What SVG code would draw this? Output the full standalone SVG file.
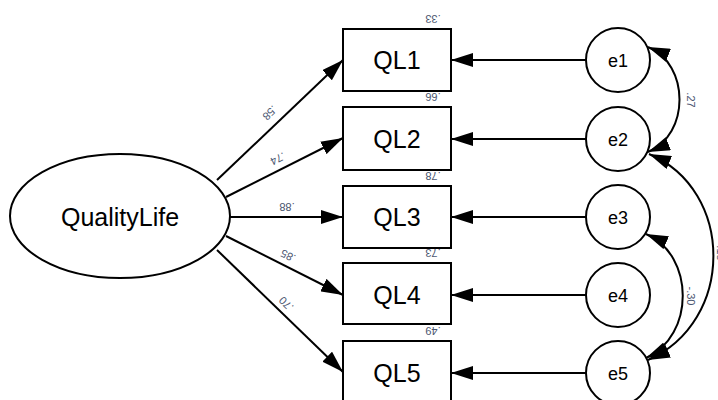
<svg xmlns="http://www.w3.org/2000/svg" width="718" height="400" viewBox="0 0 718 400">
  <style>
    .shape { fill: #ffffff; stroke: #000000; stroke-width: 2; }
    .edge { fill: none; stroke: #000000; stroke-width: 2; }
    .name { font-family: "Liberation Sans", Arial, sans-serif; font-size: 25px; fill: #000000; text-anchor: middle; dominant-baseline: central; }
    .err { font-family: "Liberation Sans", Arial, sans-serif; font-size: 18px; fill: #000000; text-anchor: middle; dominant-baseline: central; }
    .est { font-family: "Liberation Sans", Arial, sans-serif; font-size: 11px; fill: #4b5670; text-anchor: middle; dominant-baseline: central; }
  </style>
  <defs>
    <marker id="head" viewBox="0 0 22 14" refX="22" refY="7" markerWidth="22" markerHeight="14" markerUnits="userSpaceOnUse" orient="auto-start-reverse">
      <path d="M0,0 L22,7 L0,14 Z" fill="#000000"/>
    </marker>
  </defs>
  <rect width="718" height="400" fill="#ffffff"/>

  <!-- connectors -->
  <g id="connectors">
    <!-- loadings -->
    <line class="edge" x1="217" y1="180" x2="343" y2="60" marker-end="url(#head)"/>
    <line class="edge" x1="226" y1="197" x2="343" y2="138" marker-end="url(#head)"/>
    <line class="edge" x1="230" y1="217" x2="343" y2="217" marker-end="url(#head)"/>
    <line class="edge" x1="226" y1="236" x2="343" y2="295" marker-end="url(#head)"/>
    <line class="edge" x1="217" y1="250" x2="343" y2="372" marker-end="url(#head)"/>
    <!-- residuals -->
    <line class="edge" x1="586" y1="60" x2="451" y2="60" marker-end="url(#head)"/>
    <line class="edge" x1="586" y1="139" x2="451" y2="139" marker-end="url(#head)"/>
    <line class="edge" x1="586" y1="217" x2="451" y2="217" marker-end="url(#head)"/>
    <line class="edge" x1="586" y1="295" x2="451" y2="295" marker-end="url(#head)"/>
    <line class="edge" x1="586" y1="373" x2="451" y2="373" marker-end="url(#head)"/>
    <!-- residual covariances -->
    <path class="edge" d="M648,47 C690,64 690,135 648,152" marker-start="url(#head)" marker-end="url(#head)"/>
    <path class="edge" d="M646,234 C695,255 695,336 646,358" marker-start="url(#head)" marker-end="url(#head)"/>
    <path class="edge" d="M649,154 C735,190 735,322 648,360" marker-start="url(#head)" marker-end="url(#head)"/>
    <!-- estimates -->
    <text class="est" transform="translate(270,113) rotate(136.4)">.58</text>
    <text class="est" transform="translate(278,159) rotate(153.2)">.74</text>
    <text class="est" transform="translate(287,207) rotate(180)">.88</text>
    <text class="est" transform="translate(288,256) rotate(206.8)">.85</text>
    <text class="est" transform="translate(286,304) rotate(224.1)">.70</text>
    <text class="est" transform="translate(691,100) rotate(90)">.27</text>
    <text class="est" transform="translate(691,296) rotate(90)">-.30</text>
    <text class="est" transform="translate(721,253) rotate(90)">.15</text>
  </g>

  <!-- latent factor -->
  <g id="QualityLife">
    <ellipse class="shape" cx="120" cy="216" rx="110" ry="62" stroke-width="1.6"/>
    <text class="name" x="120" y="217" font-size="26">QualityLife</text>
  </g>

  <!-- indicators -->
  <g id="QL1">
    <rect class="shape" x="343" y="29" width="108" height="62"/>
    <text class="name" x="397" y="60">QL1</text>
    <text class="est" transform="translate(433,19) rotate(180)">.33</text>
  </g>
  <g id="QL2">
    <rect class="shape" x="343" y="107" width="108" height="63"/>
    <text class="name" x="397" y="139">QL2</text>
    <text class="est" transform="translate(433,97) rotate(180)">.66</text>
  </g>
  <g id="QL3">
    <rect class="shape" x="343" y="186" width="108" height="62"/>
    <text class="name" x="397" y="217">QL3</text>
    <text class="est" transform="translate(433,176) rotate(180)">.78</text>
  </g>
  <g id="QL4">
    <rect class="shape" x="343" y="263" width="108" height="61"/>
    <text class="name" x="397" y="295">QL4</text>
    <text class="est" transform="translate(433,253) rotate(180)">.73</text>
  </g>
  <g id="QL5">
    <rect class="shape" x="343" y="341" width="108" height="64"/>
    <text class="name" x="397" y="373">QL5</text>
    <text class="est" transform="translate(433,331) rotate(180)">.49</text>
  </g>

  <!-- residual terms -->
  <g id="e1">
    <circle class="shape" cx="618" cy="60" r="32"/>
    <text class="err" x="618" y="61">e1</text>
  </g>
  <g id="e2">
    <circle class="shape" cx="618" cy="139" r="32"/>
    <text class="err" x="618" y="140">e2</text>
  </g>
  <g id="e3">
    <circle class="shape" cx="618" cy="217" r="32"/>
    <text class="err" x="618" y="218">e3</text>
  </g>
  <g id="e4">
    <circle class="shape" cx="618" cy="295" r="32"/>
    <text class="err" x="618" y="296">e4</text>
  </g>
  <g id="e5">
    <circle class="shape" cx="618" cy="373" r="32"/>
    <text class="err" x="618" y="374">e5</text>
  </g>
</svg>
